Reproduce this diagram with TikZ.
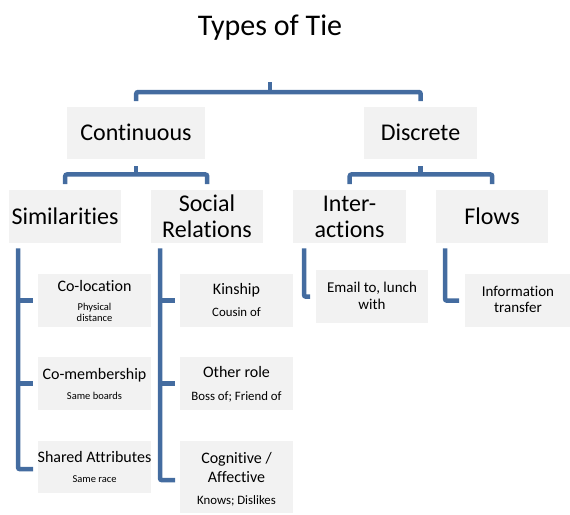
\documentclass[tikz,border=0pt]{standalone}
\usepackage{fontspec}
\setmainfont[RawFeature={-liga;-dlig;-clig}]{Carlito}
\definecolor{tieblue}{RGB}{68,108,160}
\definecolor{boxfill}{RGB}{242,242,242}
\begin{document}
\begin{tikzpicture}[x=1pt,y=-1pt,
  box/.style={fill=boxfill, draw=none, inner sep=0pt, anchor=north west},
  conn/.style={draw=tieblue, line width=4.5pt, rounded corners=2pt},
  ttl/.style={anchor=base, inner sep=0pt, font=\fontsize{30}{34}\selectfont},
  big/.style={anchor=base, inner sep=0pt, font=\fontsize{24}{28}\selectfont},
  hd/.style={anchor=base, inner sep=0pt, font=\fontsize{16}{18}\selectfont},
  mid/.style={anchor=base, inner sep=0pt, font=\fontsize{15}{17}\selectfont},
  md/.style={anchor=base, inner sep=0pt, font=\fontsize{12.8}{15}\selectfont},
  sm/.style={anchor=base, inner sep=0pt, font=\fontsize{10.5}{12}\selectfont}]
\useasboundingbox (0,0) rectangle (570,514);

% title
\node[ttl] (title) at (270,35) {Types of Tie};

% boxes
\node[box, minimum width=138, minimum height=52] (cont) at (67,107) {};
\node[box, minimum width=113, minimum height=52] (disc) at (364,107) {};
\node[box, minimum width=112, minimum height=53] (sim) at (9,190) {};
\node[box, minimum width=112, minimum height=53] (soc) at (151,190) {};
\node[box, minimum width=113, minimum height=53] (inter) at (293,190) {};
\node[box, minimum width=112, minimum height=53] (flows) at (436,190) {};
\node[box, minimum width=113, minimum height=53] (coloc) at (38,274) {};
\node[box, minimum width=113, minimum height=53] (comem) at (38,357) {};
\node[box, minimum width=113, minimum height=52] (shared) at (38,441) {};
\node[box, minimum width=113, minimum height=53] (kin) at (180,274) {};
\node[box, minimum width=113, minimum height=53] (role) at (180,357) {};
\node[box, minimum width=113, minimum height=72] (cog) at (180,441) {};
\node[box, minimum width=112, minimum height=53] (email) at (316,270) {};
\node[box, minimum width=105, minimum height=53] (info) at (465,274) {};

% box texts
\node[big] (cont-t) at (136,140) {Continuous};
\node[big] (disc-t) at (420.5,140) {Discrete};
\node[big] (sim-t) at (65,224) {Similarities};
\node[big] (soc-t1) at (207,211) {Social};
\node[big] (soc-t2) at (207,237) {Relations};
\node[big] (inter-t1) at (349.5,211) {Inter-};
\node[big] (inter-t2) at (349.5,237) {actions};
\node[big] (flows-t) at (492,224) {Flows};

\node[hd] (coloc-t) at (94.5,291) {Co-location};
\node[sm] (coloc-s1) at (94.5,310) {Physical};
\node[sm] (coloc-s2) at (94.5,321) {distance};
\node[hd] (comem-t) at (94.5,379) {Co-membership};
\node[sm] (comem-s) at (94.5,399) {Same boards};
\node[hd] (shared-t) at (94.5,462) {Shared Attributes};
\node[sm] (shared-s) at (94.5,482) {Same race};

\node[hd] (kin-t) at (236.5,294) {Kinship};
\node[md] (kin-s) at (236.5,316) {Cousin of};
\node[hd] (role-t) at (236.5,377) {Other role};
\node[md] (role-s) at (236.5,400) {Boss of; Friend of};
\node[hd] (cog-t1) at (236.5,463) {Cognitive /};
\node[hd] (cog-t2) at (236.5,482) {Affective};
\node[md] (cog-s) at (236.5,504) {Knows; Dislikes};

\node[mid] (email-t1) at (372,292) {Email to, lunch};
\node[mid] (email-t2) at (372,309) {with};
\node[mid] (info-t1) at (518,296) {Information};
\node[mid] (info-t2) at (518,312) {transfer};

% top bracket
\coordinate (root) at (270,82);
\coordinate (rootbar) at (270,92);
\draw[conn] (root) -- (rootbar);
\draw[conn] ([yshift=6pt]cont.north) |- (rootbar) -| ([yshift=6pt]disc.north);

% continuous bracket
\draw[conn] ([yshift=-7pt]cont.south) -- ([yshift=-15pt]cont.south);
\draw[conn] ([yshift=6pt]sim.north) |- ([yshift=-15pt]cont.south) -| ([yshift=6pt]soc.north);

% discrete bracket
\draw[conn] ([yshift=-7pt]disc.south) -- ([yshift=-15pt]disc.south);
\draw[conn] ([yshift=6pt]inter.north) |- ([yshift=-15pt]disc.south) -| ([yshift=6pt]flows.north);

% similarities trunk
\coordinate (simtrunk) at ([xshift=9pt,yshift=-5pt]sim.south west);
\draw[conn] (simtrunk) |- ([xshift=-5pt,yshift=-2pt]shared.west);
\draw[conn] (simtrunk |- coloc.west) -- ([xshift=-5pt]coloc.west);
\draw[conn] (simtrunk |- comem.west) -- ([xshift=-5pt]comem.west);

% social relations trunk
\coordinate (soctrunk) at ([xshift=9pt,yshift=-5pt]soc.south west);
\draw[conn] (soctrunk) |- ([xshift=-5pt,yshift=-3pt]cog.west);
\draw[conn] (soctrunk |- kin.west) -- ([xshift=-5pt]kin.west);
\draw[conn] (soctrunk |- role.west) -- ([xshift=-5pt]role.west);

% interactions and flows
\draw[conn] ([xshift=11pt,yshift=-5pt]inter.south west) |- ([xshift=-6pt]email.west);
\draw[conn] ([xshift=9pt,yshift=-5pt]flows.south west) |- ([xshift=-6pt]info.west);
\end{tikzpicture}
\end{document}
